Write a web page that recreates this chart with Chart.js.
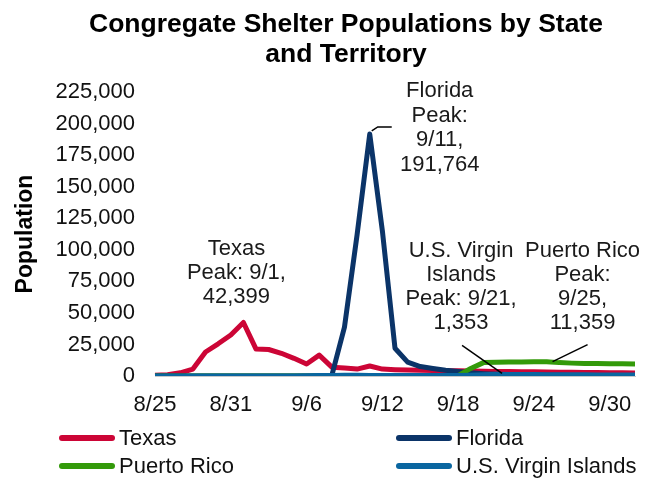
<!DOCTYPE html>
<html>
<head>
<meta charset="utf-8">
<script src="https://cdn.jsdelivr.net/npm/chart.js@4.4.0/dist/chart.umd.min.js"></script>
<style>
  html, body { margin: 0; padding: 0; background: #fff; }
  #wrap { position: relative; width: 655px; height: 481px; font-family: "Liberation Sans", Arial, sans-serif; color: #000; }
  #chart { position: absolute; left: 0; top: 0; }
  #title { position: absolute; left: 37px; top: 8px; width: 618px; text-align: center;
           font-weight: bold; font-size: 26.5px; line-height: 30px; white-space: nowrap; }
  .leg { position: absolute; height: 28px; line-height: 28px; font-size: 22px; white-space: nowrap; color: #111; }
  .leg i { position: absolute; left: 0; top: 11px; width: 56px; height: 6px; border-radius: 3px; }
  .leg span { position: absolute; left: 60px; top: 0; }
</style>
</head>
<body>
<div id="wrap">
  <canvas id="chart" width="655" height="481"></canvas>
  <div id="title">Congregate Shelter Populations by State<br>and Territory</div>
  <div id="legend"></div>
</div>
<script>
// ─── DATA ─────────────────────────────────────────────
const dates = [
  '8/25','8/26','8/27','8/28','8/29','8/30','8/31','9/1','9/2','9/3',
  '9/4','9/5','9/6','9/7','9/8','9/9','9/10','9/11','9/12','9/13',
  '9/14','9/15','9/16','9/17','9/18','9/19','9/20','9/21','9/22','9/23',
  '9/24','9/25','9/26','9/27','9/28','9/29','9/30','10/1','10/2'
];
const tickDates = ['8/25','8/31','9/6','9/12','9/18','9/24','9/30'];
const yTicks = [0, 25000, 50000, 75000, 100000, 125000, 150000, 175000, 200000, 225000];

const texas = [
  500, 1000, 2500, 5500, 19000, 25500, 32500, 42399, 21300, 21000,
  18000, 14000, 9500, 16500, 7000, 6300, 5500, 7900, 5500, 5000,
  4700, 4500, 4300, 4200, 4100, 4000, 3800, 3600, 3500, 3400,
  3300, 3200, 3000, 2900, 2800, 2700, 2600, 2500, 2400
];
const florida = [
  0, 0, 0, 0, 0, 0, 0, 0, 0, 0,
  0, 0, 0, 0, 500, 38700, 112000, 191764, 115000, 22000,
  11000, 7500, 6000, 4500, 3500, 2500, 1800, 1300, 1000, 800,
  700, 600, 500, 450, 400, 350, 300, 300, 250
];
const puertoRico = [
  0, 0, 0, 0, 0, 0, 0, 0, 0, 0,
  0, 0, 0, 0, 0, 0, 0, 0, 0, 0,
  0, 0, 0, 0, 300, 6000, 10600, 10800, 11000, 11100,
  11200, 11359, 10600, 10200, 10000, 9900, 9800, 9700, 9600
];
const virginIslands = [
  0, 0, 0, 0, 0, 0, 0, 0, 0, 0,
  0, 0, 100, 300, 400, 500, 500, 450, 400, 400,
  350, 300, 300, 300, 400, 600, 1000, 1353, 1250, 1150,
  1100, 1050, 1000, 950, 900, 850, 800, 750, 700
];

const seriesNames = ['Texas', 'Florida', 'Puerto Rico', 'U.S. Virgin Islands'];
const seriesColors = ['#CC0536', '#0B3468', '#339A0A', '#0A66A0'];

// shënimet e pikut (tekst + vija udhëzuese), relative ndaj pikës
const notes = [
  { series: 0, date: '9/1',  lines: ['Texas', 'Peak: 9/1,', '42,399'], dx: -7, dy: -73.5, gap: 24, leader: null },
  { series: 1, date: '9/11', lines: ['Florida', 'Peak:', '9/11,', '191,764'], dx: 70, dy: -43, gap: 24.5,
    leader: [[2, -3], [8, -7], [22, -7]] },
  { series: 3, date: '9/21', lines: ['U.S. Virgin', 'Islands', 'Peak: 9/21,', '1,353'], dx: -35, dy: -123, gap: 24,
    leader: [[-34, -29], [6, -1]] },
  { series: 2, date: '9/25', lines: ['Puerto Rico', 'Peak:', '9/25,', '11,359'], dx: 36, dy: -111, gap: 24,
    leader: [[41, -17], [6, 0]] }
];

const seriesData = [texas, florida, puertoRico, virginIslands];

// ─── LEGEND (HTML) ────────────────────────────────────
const legendPos = [[59, 424], [396, 424], [59, 452], [396, 452]];
const legendEl = document.getElementById('legend');
seriesNames.forEach((name, i) => {
  const d = document.createElement('div');
  d.className = 'leg';
  d.style.left = legendPos[i][0] + 'px';
  d.style.top = legendPos[i][1] + 'px';
  d.innerHTML = `<i style="background:${seriesColors[i]}"></i><span>${name}</span>`;
  legendEl.appendChild(d);
});

// ─── ANNOTATIONS PLUGIN ───────────────────────────────
const peakNotes = {
  id: 'peakNotes',
  afterDatasetsDraw(chart) {
    const { ctx, scales: { x, y } } = chart;
    ctx.save();
    ctx.font = '22px "Liberation Sans", Arial, sans-serif';
    ctx.fillStyle = '#1a1a1a';
    ctx.textAlign = 'center';
    ctx.textBaseline = 'middle';
    notes.forEach(n => {
      const idx = dates.indexOf(n.date);
      const px = x.getPixelForValue(idx);
      const py = y.getPixelForValue(seriesData[n.series][idx]);
      n.lines.forEach((t, k) => ctx.fillText(t, px + n.dx, py + n.dy + k * n.gap));
      if (n.leader) {
        ctx.beginPath();
        ctx.strokeStyle = '#000';
        ctx.lineWidth = 1.5;
        n.leader.forEach(([ox, oy], k) => {
          if (k === 0) ctx.moveTo(px + ox, py + oy); else ctx.lineTo(px + ox, py + oy);
        });
        ctx.stroke();
      }
    });
    ctx.restore();
  }
};

// ─── CHART ────────────────────────────────────────────
// renditja: USVI sipër, pastaj PR, Florida, Texas
const drawOrder = [3, 2, 1, 0];

new Chart(document.getElementById('chart').getContext('2d'), {
  type: 'line',
  data: {
    labels: dates,
    datasets: drawOrder.map(i => ({
      label: seriesNames[i],
      data: seriesData[i],
      borderColor: seriesColors[i],
      backgroundColor: seriesColors[i],
      borderWidth: 5,
      borderJoinStyle: 'round',
      pointRadius: 0,
      tension: 0,
      fill: false
    }))
  },
  options: {
    responsive: false,
    animation: false,
    layout: { padding: { top: 92, right: 20, bottom: 0, left: 0 } },
    plugins: {
      legend: { display: false },
      title: { display: false },
      tooltip: { enabled: false }
    },
    scales: {
      x: {
        type: 'category',
        offset: false,
        grid: { display: false, drawTicks: false },
        border: { display: true, color: '#c8c8c8', width: 1 },
        ticks: {
          autoSkip: false,
          maxRotation: 0,
          padding: 16,
          color: '#111',
          font: { family: '"Liberation Sans", Arial, sans-serif', size: 22 },
          callback: (v, i) => tickDates.includes(dates[i]) ? dates[i] : ''
        },
        afterFit: s => { s.height = 105; }
      },
      y: {
        min: 0,
        max: 225000,
        grid: { display: false, drawTicks: false },
        border: { display: false },
        afterBuildTicks: s => { s.ticks = yTicks.map(v => ({ value: v })); },
        ticks: {
          padding: 20,
          color: '#111',
          font: { family: '"Liberation Sans", Arial, sans-serif', size: 22 },
          callback: v => v.toLocaleString('en-US')
        },
        title: {
          display: true,
          text: 'Population',
          color: '#000',
          padding: { top: 12, bottom: 0 },
          font: { family: '"Liberation Sans", Arial, sans-serif', size: 23, weight: 'bold' }
        },
        afterFit: s => { s.width = 155; }
      }
    }
  },
  plugins: [peakNotes]
});
</script>
</body>
</html>
